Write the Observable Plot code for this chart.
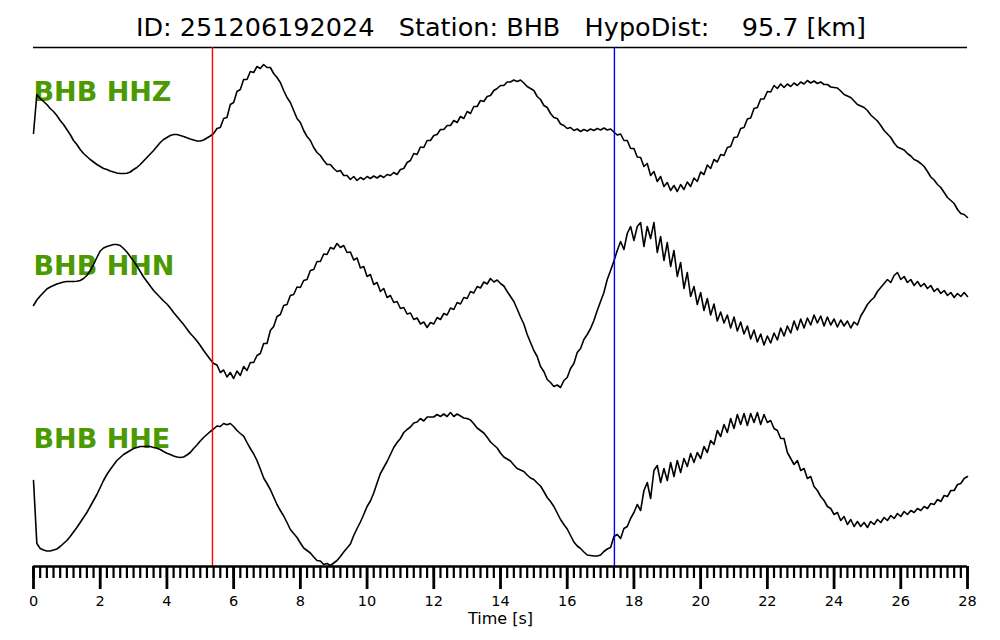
<!DOCTYPE html>
<html><head><meta charset="utf-8">
<script src="https://cdn.jsdelivr.net/npm/d3@7"></script>
<script src="https://cdn.jsdelivr.net/npm/@observablehq/plot@0.6"></script>
<style>
body{margin:0;background:#fff;}
#wrap{position:relative;width:1000px;height:640px;overflow:hidden;font-family:"DejaVu Sans";background:#fff;}
#title{position:absolute;left:0;top:12px;width:1002px;text-align:center;font-size:25.5px;line-height:30px;white-space:pre;color:#000;}
#chart{position:absolute;left:0;top:46px;}
</style></head><body>
<div id="wrap"><div id="title">ID: 251206192024   Station: BHB   HypoDist:    95.7 [km]</div><div id="chart"></div></div>
<script>
// Channel names
const channels = ["BHB HHZ", "BHB HHN", "BHB HHE"];
// Sample interval (s) of the values below
const dt = 0.1;
// Amplitudes (arbitrary units, positive up), one value per 0.1 s from 0 to 28 s
const hhz = [
-1,38,34,31,28,24,21,17,12,8,
3,-2,-8,-12,-17,-21,-24,-27,-29.5,-32,
-34,-36,-37,-38.5,-39.5,-40.5,-41,-41,-40.7,-39.5,
-37,-35,-32,-28.5,-25,-21.5,-18,-14,-10,-7,
-5,-3,-2,-2,-3,-4,-5.3,-6.5,-7.5,-8.5,
-8.5,-7.5,-5.5,-3.5,-1,4,5,14,15,28,
30,41,43,53,53,61,60,66,64,68,
65,65,59,55,50,42,35,30,22,14,
10,2,-4,-8,-15,-20,-23,-28,-32,-32,
-36,-39,-38,-43,-43,-47,-44,-48,-45,-47,
-44,-46,-43.5,-45.5,-43,-45,-42,-43,-40,-42,
-37,-36,-30,-28,-21,-22,-14.5,-15,-8,-8,
-3,-2,3,3,7,7,12,10,16,14,
21,19,26,26,32,31,36,37,42,44,
47,47,50.5,50.5,52.5,51,52.5,49.5,46,44,
42,36,33,27,25,19,15,14,8.5,7,
4,5,2,3.5,1,3,1.5,3.5,2,4,
2.5,4.5,2.5,3.5,0.5,-2.5,-1.5,-8,-8,-16,
-16,-24.5,-25,-34,-31,-43,-39,-49,-44,-54,
-50,-58,-53,-59,-52,-57,-49.5,-54,-45.5,-49,
-39.5,-42,-32.5,-36,-27,-29.5,-22,-23,-15,-14,
-5,-4.5,4,5,13.5,14.5,24,25,33.5,33.5,
41,40.5,47,44,48.5,45,48.5,46,49.5,47,
50.5,48.5,52,49.5,51.5,49,50.5,48,48,45.5,
45,44.5,41.5,38,36.5,35,31.5,28,26.5,25,
22,17.5,14.5,11.5,7,2,-1.5,-5,-10.5,-14.5,
-16,-17.5,-21,-23.5,-27,-28.5,-31,-34,-39,-44.5,
-47.5,-52,-55,-60,-65,-68,-71,-77,-81,-82,
-85];
const hhn = [
0.5,6,10,13.5,17,19,20.5,22,23,24,
24.5,24.5,24.5,24.8,25.5,27.5,30.5,35.5,41.5,48.5,
55,58,59.5,60.5,61.5,61.5,60.5,57.5,54,49.5,
45,40,34.5,29,24.5,20,15.5,12,8.5,5,
2,-2,-6.5,-10.5,-14.5,-18.5,-23,-27.5,-31,-35,
-39.5,-44.5,-49,-53.5,-57.5,-59,-66.5,-64,-71,-66.5,
-72.5,-65,-69.5,-60.5,-64.5,-56.5,-56.5,-49.5,-47.5,-37.5,
-37.5,-24.5,-20.5,-10.5,-8.5,0.5,1.5,10.5,11.5,19,
18.5,25.5,26.5,35.5,36.5,44.5,44.5,52,51.5,58.5,
57,62.5,58.5,60.5,53.5,54,46,48,38,39.5,
29.5,31.5,21.5,23.5,14.5,17.5,8.5,10.5,3.5,4.5,
-2.5,-1.5,-8,-7,-13.5,-12,-18,-16,-21.5,-16.5,
-18,-11.5,-13.5,-7.5,-9,-2,-3.5,3.5,2,8.5,
7.5,14.5,13,19.5,18,24,22,27.5,24,26,
22.5,20,14.5,9.5,4.5,-3,-11,-18,-28.5,-36.5,
-44.5,-50.5,-60.5,-65.5,-73.5,-76.5,-80.5,-79,-81.5,-74.5,
-71.5,-62.5,-57.5,-46.5,-42.5,-33.5,-28.5,-22.5,-14.5,-4.5,
4.5,13.5,26.5,35.5,45,55.5,64.5,56.5,72.5,79.5,
65.5,79.5,83.5,59.5,79.5,67.5,83.5,53.5,69.5,45.5,
63.5,39.5,55.5,29.5,43.5,17.5,33.5,9.5,19.5,1.5,
13.5,-4.5,7.5,-9,2,-15,-6,-17,-9,-22,
-11,-25,-16,-28,-20,-33,-24,-36,-28,-39,
-30,-37,-27,-34,-22,-30,-20,-27,-15,-24,
-13,-22,-12,-19,-9,-17,-10,-20,-11,-19,
-13,-21,-14,-20,-15,-22,-16,-19,-10,-4.5,
1.5,5.5,8.5,14.5,18.5,22.5,26.5,23.5,30.5,33.5,
26.5,29.5,23.5,26.5,20.5,24.5,19.5,22.5,17.5,20.5,
14.5,17.5,12.5,15.5,10.5,13.5,8.5,12.5,9.5,13.5,
9.5];
const hhe = [
-1,-64,-69,-70.5,-71.5,-71.5,-70.5,-69.5,-67,-64,
-61,-57,-52.5,-48,-43,-38,-33,-27,-21,-15,
-8,-1,5,10,14.5,19,22,25,27,29,
31,32,33,33,33.3,33,32,31.3,30,28,
26.3,25,23.5,22.5,22,22.5,24.5,27,31,34.5,
38.5,42,45,48,50.5,53.5,53,56,54.7,56,
53,49,46,43.3,37,31,25.7,19,10.5,1.5,
-4,-10,-17.5,-25,-31,-36.5,-43,-50,-54,-58,
-63.5,-68.5,-71,-73.5,-77.5,-81,-81.5,-85,-84,-86,
-83.5,-81,-77,-72.5,-68.5,-64.5,-56,-49,-42.5,-35,
-27,-21.5,-13.5,-3.5,6,12,18,25,32,37,
41,47,50,52.5,56.5,57.5,61,58.5,62.5,62.5,
62.5,65,63,65.5,63,67,63,65.5,63.5,61.5,
61,59.5,55.7,51.5,49,46.5,42.3,37.5,34.5,31.5,
26.5,22.5,20.5,18.5,14.5,11,9.5,8,4.5,1.5,
0,-3.5,-6.5,-12,-18,-22,-27,-33.5,-40,-45,
-49.5,-56,-62.5,-66.5,-69,-72.5,-75.5,-76,-76.5,-76.5,
-75.5,-72,-69.5,-68,-57,-55,-59,-49,-47,-39,
-33,-25,-31,-11,-3,-19,9,14,-3,11,
-1,17,3,19,7,21,13,26,17,27,
21,33,27,39,35,49,43,55,47,61,
51,65,55,66,54,66,57,67,55,65,
57,59,51,49,41,41,27,21,15,19,
9,11,1,3,-7,-11,-17,-21,-27,-29,
-35,-33,-41,-37,-45,-40,-47,-42,-47,-43,
-48,-42,-45,-40,-43,-38,-41,-36,-39,-34,
-37,-32,-35,-31,-33,-29,-31,-27,-29,-24,
-25,-20,-22,-16,-17,-11,-11,-5,-4,1,
3];
// Phase picks (s)
const pickP = 5.365;
const pickS = 17.415;
// Axis ticks and label
const majorTicks = [0,2,4,6,8,10,12,14,16,18,20,22,24,26,28];
const minorStep = 0.2;
const xLabel = "Time [s]";

// ---- layout (not data) ----
const spacing = 173.5;
const yBottom = -434, yTop = 85;
const series = [hhz, hhn, hhe];
const rows = series.flatMap((vals, i) => vals.map((v, j) => ({t: j * dt, a: v - i * spacing, ch: channels[i]})));
const labels = channels.map((c, i) => ({c, y: 31.3 - i * spacing}));
const minorTicks = d3.range(0, Math.round(28 / minorStep) + 1).map(k => +(k * minorStep).toFixed(1));

const chart = Plot.plot({
  width: 1000, height: 594,
  marginLeft: 33, marginRight: 33, marginTop: 1, marginBottom: 74,
  style: {fontFamily: "DejaVu Sans", background: "white", color: "black", overflow: "visible"},
  x: {domain: [0, 28]},
  y: {domain: [yBottom, yTop], axis: null},
  marks: [
    Plot.ruleY([yTop], {stroke: "black", strokeWidth: 1.5}),
    Plot.text(labels, {x: 0, y: "y", text: "c", textAnchor: "start", lineAnchor: "bottom", fontSize: 27, fontWeight: "bold", fill: "#4a9a00"}),
    Plot.line(rows, {x: "t", y: "a", z: "ch", stroke: "black", strokeWidth: 1.6, strokeLinejoin: "round"}),
    Plot.ruleX([pickP], {y1: yBottom, y2: yTop, stroke: "#ff0000", strokeWidth: 1.4}),
    Plot.ruleX([pickS], {y1: yBottom, y2: yTop, stroke: "#0000ff", strokeWidth: 1.4}),
    Plot.ruleX(minorTicks, {x: d => d, y1: yBottom, y2: yBottom - 12, stroke: "black", strokeWidth: 2.2}),
    Plot.ruleY([yBottom], {stroke: "black", strokeWidth: 2.5}),
    Plot.axisX(majorTicks, {tickSize: 23, tickPadding: 6, strokeWidth: 2.8, fontSize: 14.5, label: null}),
    Plot.text([xLabel], {x: 14, y: -491, text: d => d, lineAnchor: "bottom", fontSize: 16})
  ]
});
document.getElementById("chart").appendChild(chart);
</script>
</body></html>
